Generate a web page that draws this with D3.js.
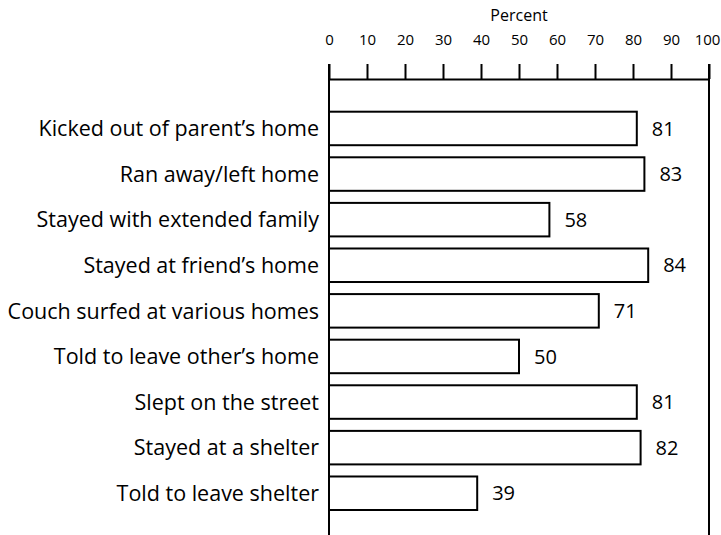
<!DOCTYPE html>
<html>
<head>
<meta charset="utf-8">
<script src="https://cdn.jsdelivr.net/npm/d3@7"></script>
<style>
  body { margin: 0; background: #fff; }
  text { font-family: "Open Sans", sans-serif; fill: #000; }
</style>
</head>
<body>
<svg id="chart" width="721" height="535"></svg>
<script>
const categories = [
  "Kicked out of parent’s home",
  "Ran away/left home",
  "Stayed with extended family",
  "Stayed at friend’s home",
  "Couch surfed at various homes",
  "Told to leave other’s home",
  "Slept on the street",
  "Stayed at a shelter",
  "Told to leave shelter"
];
const percents = [81, 83, 58, 84, 71, 50, 81, 82, 39];
const tickValues = [0, 10, 20, 30, 40, 50, 60, 70, 80, 90, 100];
const axisTitle = "Percent";

const svg = d3.select("#chart");
const left = 329, right = 709, axisY = 79, bottom = 535;

const x = d3.scaleLinear().domain([0, 100]).range([left, right]);
const y = d3.scaleBand().domain(categories).range([111.7, 510]).paddingInner(0.265);

// top axis
const axis = d3.axisTop(x).tickValues(tickValues).tickSize(15).tickPadding(19).tickSizeOuter(0);
const gAxis = svg.append("g").attr("transform", `translate(0,${axisY})`).call(axis);
gAxis.attr("font-size", 15);
gAxis.select(".domain").attr("stroke", "#000").attr("stroke-width", 2);
gAxis.selectAll(".tick line").attr("stroke", "#000").attr("stroke-width", 2);
gAxis.selectAll(".tick text")
  .style("font-family", "'Open Sans', sans-serif")
  .attr("font-size", 15).attr("fill", "#000")
  .attr("dx", d => d === 100 ? -2 : 0);

svg.append("text")
  .attr("x", x(50)).attr("y", 21)
  .attr("text-anchor", "middle")
  .attr("font-size", 16)
  .text(axisTitle);

// side rules
[0, 100].forEach(v => {
  svg.append("line")
    .attr("x1", x(v)).attr("x2", x(v))
    .attr("y1", axisY - 15).attr("y2", bottom)
    .attr("stroke", "#000").attr("stroke-width", 2);
});

// bars
svg.selectAll("rect.bar")
  .data(percents)
  .join("rect")
  .attr("class", "bar")
  .attr("x", x(0))
  .attr("y", (d, i) => y(categories[i]))
  .attr("width", d => x(d) - x(0))
  .attr("height", y.bandwidth())
  .attr("fill", "#fff")
  .attr("stroke", "#000")
  .attr("stroke-width", 2);

// value labels
svg.selectAll("text.val")
  .data(percents)
  .join("text")
  .attr("class", "val")
  .attr("x", d => x(d) + 15)
  .attr("y", (d, i) => y(categories[i]) + y.bandwidth() / 2)
  .attr("dy", "0.36em")
  .attr("font-size", 20)
  .text(d => d);

// category labels
svg.selectAll("text.cat")
  .data(categories)
  .join("text")
  .attr("class", "cat")
  .attr("x", left - 10)
  .attr("y", d => y(d) + y.bandwidth() / 2)
  .attr("dy", "0.36em")
  .attr("text-anchor", "end")
  .attr("font-size", 21.5)
  .text(d => d);
</script>
</body>
</html>
